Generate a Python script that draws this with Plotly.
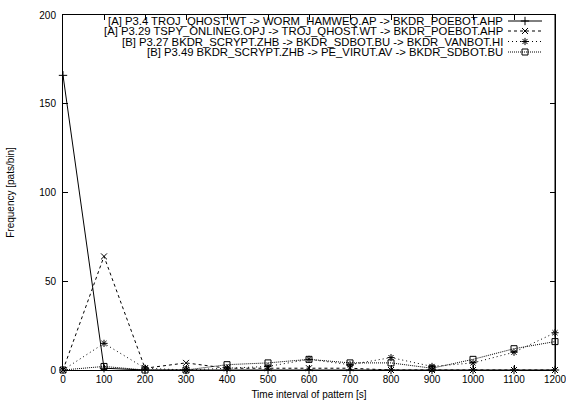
import plotly.graph_objects as go

x_vals = [0, 100, 200, 300, 400, 500, 600, 700, 800, 900, 1000, 1100, 1200]
a_p34 = [166, 1, 0, 0, 0, 0, 0, 0, 0, 0, 0, 0, 0]
a_p329 = [0, 64, 1, 4, 1, 1, 1, 1, 0, 0, 0, 0, 0]
b_p327 = [0, 15, 1, 0, 1, 2, 6, 3, 7, 2, 4, 10, 21]
b_p349 = [0, 2, 0, 0, 3, 4, 6, 4, 4, 1, 6, 12, 16]

names = [
    "[A] P3.4 TROJ_QHOST.WT -> WORM_HAMWEQ.AP -> BKDR_POEBOT.AHP",
    "[A] P3.29 TSPY_ONLINEG.OPJ -> TROJ_QHOST.WT -> BKDR_POEBOT.AHP",
    "[B] P3.27 BKDR_SCRYPT.ZHB -> BKDR_SDBOT.BU -> BKDR_VANBOT.HI",
    "[B] P3.49 BKDR_SCRYPT.ZHB -> PE_VIRUT.AV -> BKDR_SDBOT.BU",
]
series = [a_p34, a_p329, b_p327, b_p349]
dashes = ["solid", "3px,3px", "1px,3px", "1px,1px"]
symbols = ["cross-thin-open", "x-thin-open", "asterisk-open", "square-open"]

FONT = "Liberation Sans, Arial, sans-serif"
fig = go.Figure()
for name, ys, d, s in zip(names, series, dashes, symbols):
    fig.add_trace(go.Scatter(
        x=x_vals, y=ys, name=name, mode="lines+markers",
        line=dict(color="black", width=1, dash=d),
        marker=dict(symbol=s, size=6, color="black", line=dict(color="black", width=1)),
        showlegend=False, cliponaxis=False,
    ))

# custom gnuplot-style legend (text right-aligned, sample on the right)
leg_rows = [6, 16, 26.5, 37]  # pixel rows from top of plot area
for i, (name, d, s) in enumerate(zip(names, dashes, symbols)):
    fig.add_trace(go.Scatter(
        x=[445, 479], y=[leg_rows[i], leg_rows[i]], mode="lines",
        line=dict(color="black", width=1, dash=d),
        xaxis="x2", yaxis="y2", showlegend=False, hoverinfo="skip",
    ))
    fig.add_trace(go.Scatter(
        x=[462], y=[leg_rows[i]], mode="markers",
        marker=dict(symbol=s, size=6, color="black", line=dict(color="black", width=1)),
        xaxis="x2", yaxis="y2", showlegend=False, hoverinfo="skip",
    ))
    fig.add_annotation(
        x=442, y=leg_rows[i], xref="x2", yref="y2", text=name,
        showarrow=False, xanchor="right", yanchor="middle",
        font=dict(family=FONT, size=11.3, color="black"),
    )

axis_common = dict(
    showgrid=False, zeroline=False, showline=True, linecolor="black", linewidth=1,
    mirror="ticks", ticks="inside", ticklen=5, tickcolor="black", tickwidth=1,
    tickfont=dict(family=FONT, size=10, color="black"), automargin=False,
)
fig.update_layout(
    width=566, height=401,
    margin=dict(l=63, r=11, t=15, b=31),
    paper_bgcolor="white", plot_bgcolor="white",
    xaxis=dict(range=[0, 1200], tickvals=x_vals, ticklabeloverflow="allow", **axis_common,
               title=dict(text="Time interval of pattern [s]", standoff=6,
                          font=dict(family=FONT, size=10, color="black"))),
    yaxis=dict(range=[0, 200], tickvals=[0, 50, 100, 150, 200], **axis_common,
               ticklabelstandoff=4,
               title=dict(text="Frequency [pats/bin]", standoff=22,
                          font=dict(family=FONT, size=10, color="black"))),
    xaxis2=dict(overlaying="x", range=[0, 492], visible=False, anchor="y2", automargin=False),
    yaxis2=dict(overlaying="y", range=[355, 0], visible=False, anchor="x2", automargin=False),
)
# right border of the plot box
fig.add_shape(type="line", xref="paper", yref="paper", x0=1, x1=1, y0=0, y1=1,
              line=dict(color="black", width=1))
fig.write_html(
    "out.html",
    config={"displayModeBar": False},
    post_script="document.body.style.margin='0';document.documentElement.style.overflow='hidden';",
)
